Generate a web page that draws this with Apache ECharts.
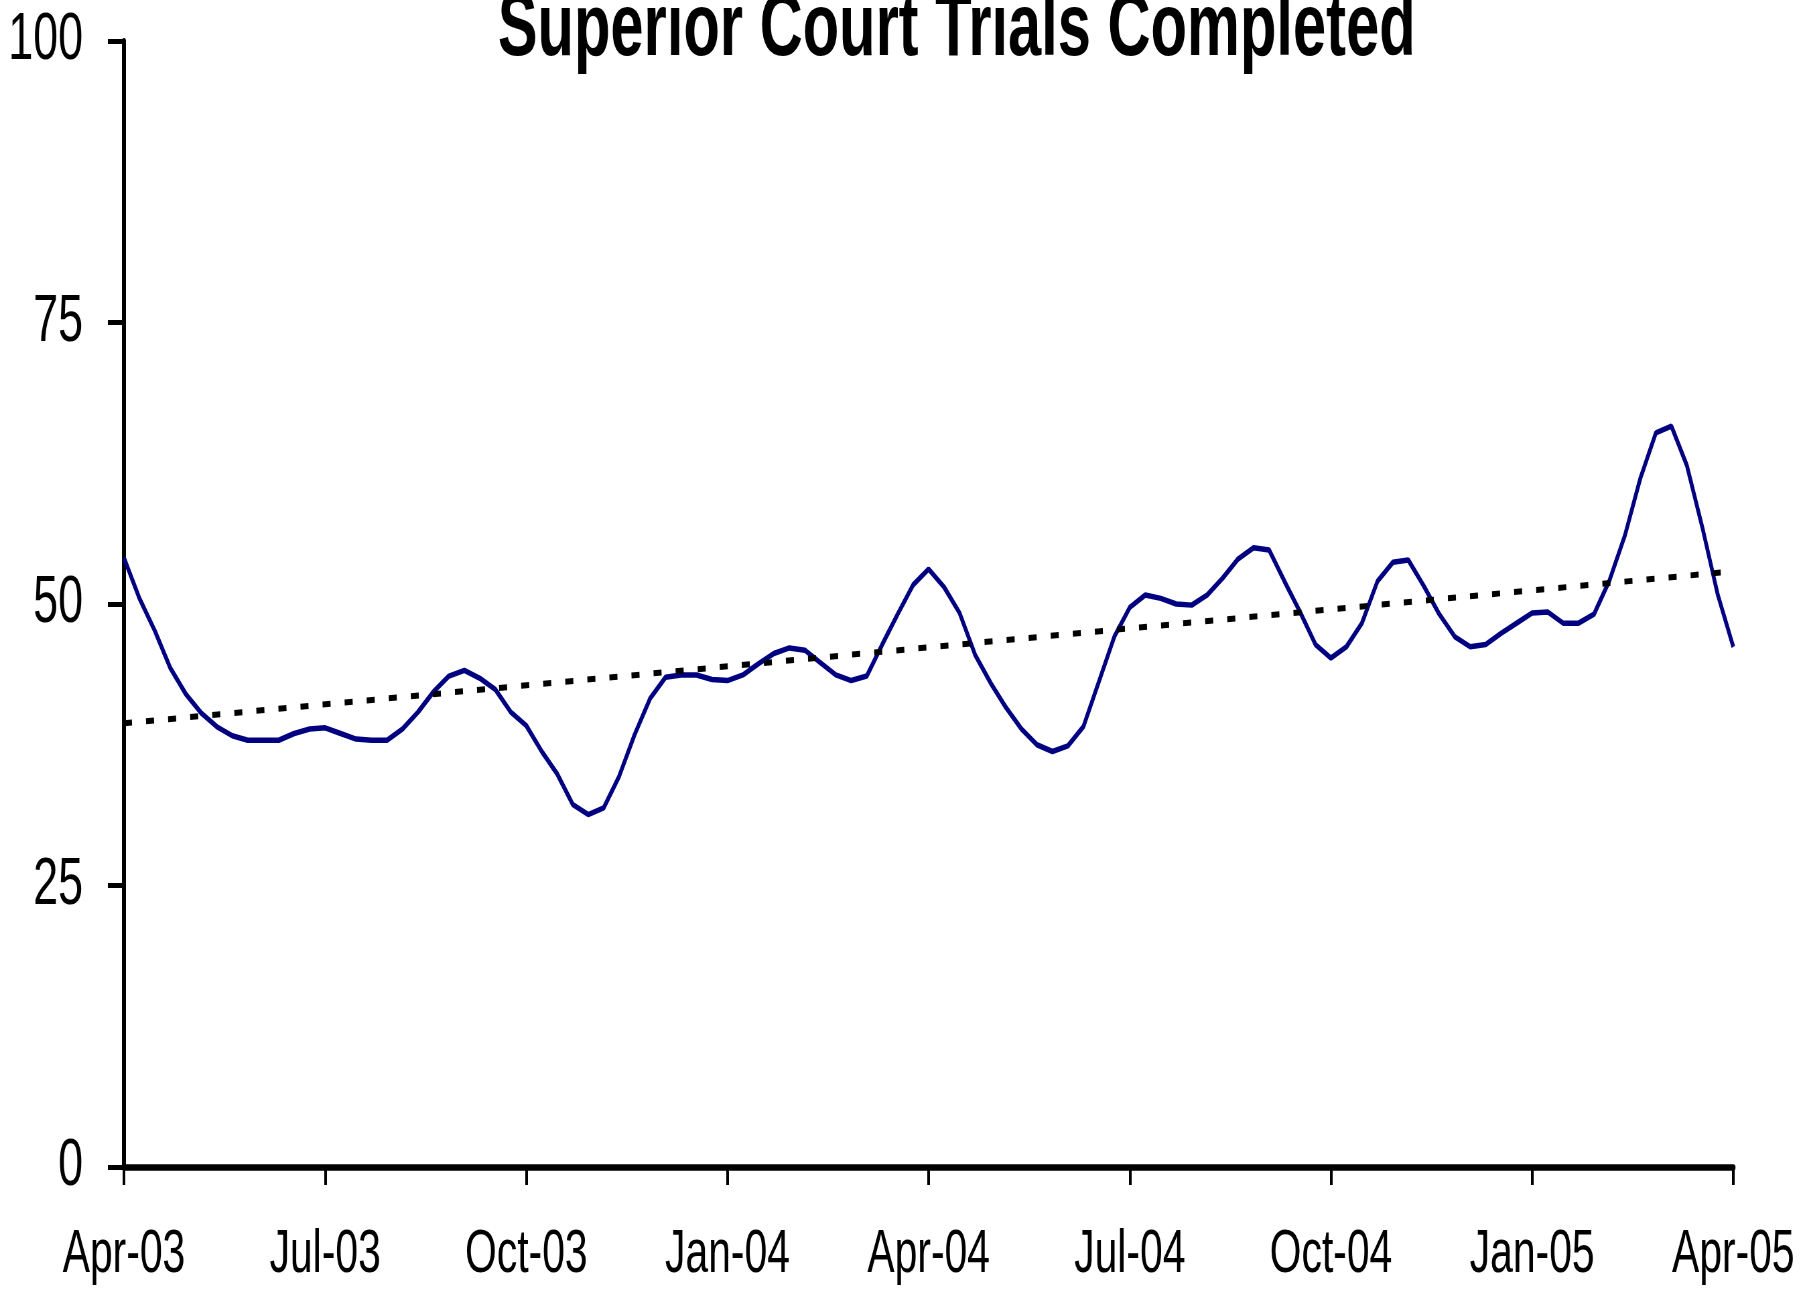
<!DOCTYPE html>
<html>
<head>
<meta charset="utf-8">
<title>Superior Court Trials Completed</title>
<script src="https://cdn.jsdelivr.net/npm/echarts@6/dist/echarts.min.js"></script>
<style>
  html, body { margin: 0; padding: 0; background: #fff; overflow: hidden; }
  /* the reference is a tall, narrow (vertically stretched) chart:
     draw wider and squeeze horizontally */
  #chart { width: 2693px; height: 1289px; transform: scaleX(0.67); transform-origin: 0 0; }
</style>
</head>
<body>
<div id="chart"></div>
<script>
// weekly points, Apr-03 .. Apr-05 (105 weeks)
const firstWeek = [2003, 3, 5]
const weekCount = 105
const monthNames = ['Jan', 'Feb', 'Mar', 'Apr', 'May', 'Jun', 'Jul', 'Aug', 'Sep', 'Oct', 'Nov', 'Dec']

// trials completed (smoothed)
const trials = [
  54.1, 50.5, 47.6, 44.3, 42.0, 40.3, 39.1, 38.3, 37.9, 37.9,
  37.9, 38.5, 38.9, 39.0, 38.5, 38.0, 37.9, 37.9, 38.9, 40.4,
  42.2, 43.6, 44.1, 43.4, 42.4, 40.4, 39.2, 36.9, 34.9, 32.2,
  31.3, 31.9, 34.7, 38.4, 41.6, 43.5, 43.7, 43.7, 43.3, 43.2,
  43.7, 44.7, 45.6, 46.1, 45.9, 44.8, 43.7, 43.2, 43.6, 46.4,
  49.1, 51.7, 53.1, 51.5, 49.2, 45.5, 43.0, 40.8, 38.9, 37.5,
  36.9, 37.4, 39.1, 43.1, 47.1, 49.7, 50.8, 50.5, 50.0, 49.9,
  50.8, 52.3, 54.0, 55.0, 54.8, 52.0, 49.3, 46.4, 45.2, 46.2,
  48.3, 52.0, 53.7, 53.9, 51.6, 49.1, 47.1, 46.2, 46.4, 47.4,
  48.3, 49.2, 49.3, 48.3, 48.3, 49.1, 52.1, 56.1, 61.2, 65.2,
  65.8, 62.3, 56.8, 50.8, 46.2
]

// linear trend line, its two ends
const trendEnds = [39.4, 52.9]

const yTicks = [0, 25, 50, 75, 100]

let weeks = []
for (let i = 0; i < weekCount; i++) {
  let d = new Date(firstWeek[0], firstWeek[1], firstWeek[2] + 7 * i)
  weeks.push(d.getFullYear() + '-' + (d.getMonth() + 1) + '-' + d.getDate())
}

function quarterLabel (value) {
  let p = value.split('-')
  return monthNames[Number(p[1]) - 1] + '-' + p[0].slice(2)
}

const font = '"Liberation Sans", Arial, sans-serif'

let myChart = echarts.init(document.getElementById('chart'))
let option = {
  animation: false,
  backgroundColor: '#fff',
  title: {
    text: 'Superior Court Trials Completed',
    left: 743,
    top: -14,
    padding: 0,
    textStyle: {
      fontFamily: font,
      fontSize: 89,
      fontWeight: 'bold',
      color: '#000'
    }
  },
  grid: {
    left: 185,
    right: 106,
    top: 41,
    bottom: 122,
    containLabel: false
  },
  xAxis: {
    type: 'category',
    boundaryGap: false,
    data: weeks,
    axisLine: {
      lineStyle: { color: '#000', width: 6.5 }
    },
    axisTick: {
      interval: 12,
      length: 18,
      lineStyle: { color: '#000', width: 4 }
    },
    axisLabel: {
      interval: 12,
      margin: 58,
      fontFamily: font,
      fontSize: 61,
      color: '#000',
      formatter: quarterLabel
    },
    splitLine: { show: false }
  },
  yAxis: {
    type: 'value',
    min: yTicks[0],
    max: yTicks[yTicks.length - 1],
    interval: 25,
    axisLine: {
      show: true,
      lineStyle: { color: '#000', width: 6 }
    },
    axisTick: {
      show: true,
      length: 24,
      lineStyle: { color: '#000', width: 5 }
    },
    axisLabel: {
      margin: 61,
      fontFamily: font,
      fontSize: 67,
      color: '#000',
      padding: [0, 0, 14, 0]
    },
    splitLine: { show: false }
  },
  series: [
    {
      name: 'Trials Completed',
      type: 'line',
      data: trials,
      showSymbol: false,
      z: 2,
      lineStyle: { color: '#000080', width: 5.5 }
    },
    {
      name: 'Linear trend',
      type: 'line',
      data: [[0, trendEnds[0]], [weekCount - 1, trendEnds[1]]],
      showSymbol: false,
      z: 3,
      lineStyle: { color: '#000', width: 6, type: [12, 21], cap: 'butt' }
    }
  ]
}

myChart.setOption(option)
</script>
</body>
</html>
